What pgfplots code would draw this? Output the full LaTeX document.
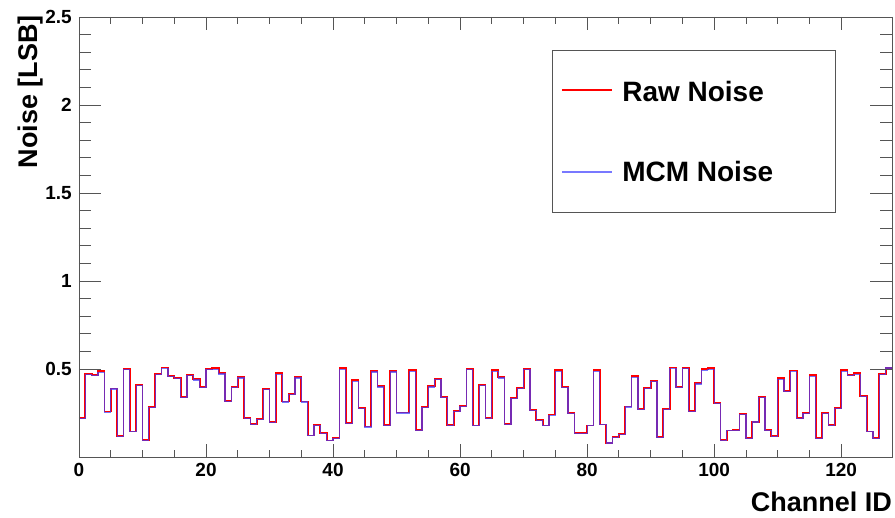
\documentclass[border=0pt]{standalone}
\usepackage{fontspec}
\setmainfont{Liberation Sans}
\usepackage{pgfplots}
\pgfplotsset{compat=1.18}
\definecolor{RawRed}{RGB}{255,0,0}
\definecolor{McmBlue}{RGB}{60,60,255}
\definecolor{LegBlue}{RGB}{120,120,255}
\definecolor{Frame}{RGB}{85,85,85}

% raw and MCM noise per channel
\pgfplotstableread{
ch raw mcm
0 0.221 0.219
1 0.472 0.468
2 0.464 0.461
3 0.487 0.480
4 0.258 0.255
5 0.389 0.386
6 0.119 0.117
7 0.502 0.499
8 0.145 0.143
9 0.409 0.405
10 0.098 0.096
11 0.283 0.280
12 0.472 0.468
13 0.509 0.502
14 0.462 0.458
15 0.449 0.445
16 0.340 0.337
17 0.466 0.462
18 0.442 0.438
19 0.396 0.393
20 0.500 0.495
21 0.505 0.498
22 0.476 0.472
23 0.320 0.317
24 0.396 0.393
25 0.453 0.449
26 0.221 0.218
27 0.188 0.186
28 0.215 0.212
29 0.387 0.383
30 0.198 0.196
31 0.476 0.469
32 0.315 0.312
33 0.358 0.355
34 0.453 0.449
35 0.315 0.312
36 0.122 0.120
37 0.183 0.181
38 0.137 0.135
39 0.094 0.092
40 0.107 0.105
41 0.506 0.499
42 0.194 0.192
43 0.438 0.431
44 0.279 0.276
45 0.173 0.171
46 0.487 0.483
47 0.402 0.398
48 0.183 0.181
49 0.487 0.483
50 0.253 0.250
51 0.253 0.250
52 0.494 0.487
53 0.154 0.152
54 0.283 0.280
55 0.405 0.398
56 0.443 0.439
57 0.343 0.340
58 0.183 0.181
59 0.260 0.257
60 0.292 0.289
61 0.502 0.498
62 0.179 0.177
63 0.411 0.407
64 0.221 0.218
65 0.494 0.487
66 0.453 0.449
67 0.188 0.186
68 0.334 0.331
69 0.392 0.388
70 0.502 0.495
71 0.268 0.265
72 0.211 0.209
73 0.179 0.177
74 0.241 0.238
75 0.494 0.487
76 0.400 0.396
77 0.249 0.246
78 0.137 0.135
79 0.137 0.135
80 0.179 0.177
81 0.494 0.487
82 0.185 0.183
83 0.081 0.079
84 0.115 0.113
85 0.132 0.130
86 0.287 0.284
87 0.460 0.453
88 0.272 0.269
89 0.392 0.388
90 0.434 0.430
91 0.113 0.111
92 0.273 0.270
93 0.508 0.501
94 0.396 0.393
95 0.506 0.502
96 0.260 0.257
97 0.419 0.415
98 0.500 0.493
99 0.506 0.499
100 0.307 0.304
101 0.098 0.096
102 0.151 0.149
103 0.154 0.152
104 0.245 0.242
105 0.107 0.105
106 0.201 0.199
107 0.340 0.337
108 0.154 0.152
109 0.120 0.118
110 0.449 0.442
111 0.374 0.370
112 0.491 0.484
113 0.221 0.218
114 0.249 0.246
115 0.464 0.457
116 0.107 0.105
117 0.251 0.248
118 0.183 0.181
119 0.279 0.276
120 0.494 0.487
121 0.466 0.462
122 0.476 0.469
123 0.347 0.344
124 0.145 0.143
125 0.107 0.105
126 0.472 0.468
127 0.506 0.506
128 0.506 0.506
}\noisedata

\pgfplotsset{
  noiseframe/.style={
    scale only axis,
    width=813bp, height=440bp,
    xmin=0, xmax=128, ymin=0, ymax=2.5,
    tick align=inside,
    axis line style={draw=Frame, line width=0.8bp},
    tick style={draw=Frame, line width=0.8bp},
    /pgf/number format/assume math mode=true,
    ticklabel style={font=\fontsize{19bp}{21bp}\selectfont\bfseries},
    label style={font=\fontsize{27bp}{30bp}\selectfont\bfseries, inner sep=0pt},
  },
}
\tikzset{legtext/.style={anchor=base west, inner sep=0pt, font=\fontsize{28bp}{30bp}\selectfont\bfseries}}

\begin{document}
\begin{tikzpicture}
% x ticks, data and legend
\begin{axis}[
  noiseframe,
  clip=false,
  xtick={0,20,...,120}, minor x tick num=3,
  xtick pos=both,
  ytick=\empty,
  major tick length=13bp, minor tick length=7.5bp,
  xticklabel style={inner sep=0pt, yshift=-6bp},
  xlabel={Channel ID},
  xlabel style={at={(axis description cs:1,-0.08)}, anchor=north east},
]
\addplot[const plot mark left, color=RawRed, line width=1.8bp] table[x=ch, y=raw] {\noisedata};
\addplot[const plot mark left, color=McmBlue, line width=1.2bp, draw opacity=0.7] table[x=ch, y=mcm] {\noisedata};
% legend box
\draw[Frame, line width=0.8bp] (rel axis cs:0.5818,0.925) rectangle (rel axis cs:0.930,0.557);
\draw[RawRed, line width=1.1bp] (rel axis cs:0.594,0.834) -- (rel axis cs:0.6556,0.834);
\node[legtext] at (rel axis cs:0.668,0.8075) {Raw Noise};
\draw[LegBlue, line width=1.1bp] (rel axis cs:0.594,0.6477) -- (rel axis cs:0.6556,0.6477);
\node[legtext] at (rel axis cs:0.668,0.6257) {MCM Noise};
\end{axis}
% y ticks, longer than the x ticks
\begin{axis}[
  noiseframe,
  hide x axis,
  ytick={0.5,1,1.5,2,2.5}, minor y tick num=4,
  ytick pos=both,
  major tick length=22bp, minor tick length=12bp,
  yticklabel style={inner sep=0pt, xshift=-7bp},
  yticklabel={\pgfmathprintnumber[fixed,precision=1]{\tick}},
  ylabel={Noise [LSB]},
  ylabel style={at={(axis description cs:-0.075,1.005)}, anchor=north east},
]
\end{axis}
\pgfresetboundingbox
\path ([shift={(-79bp,-61bp)}]current axis.south west) rectangle ++(895bp,518bp);
\end{tikzpicture}
\end{document}
